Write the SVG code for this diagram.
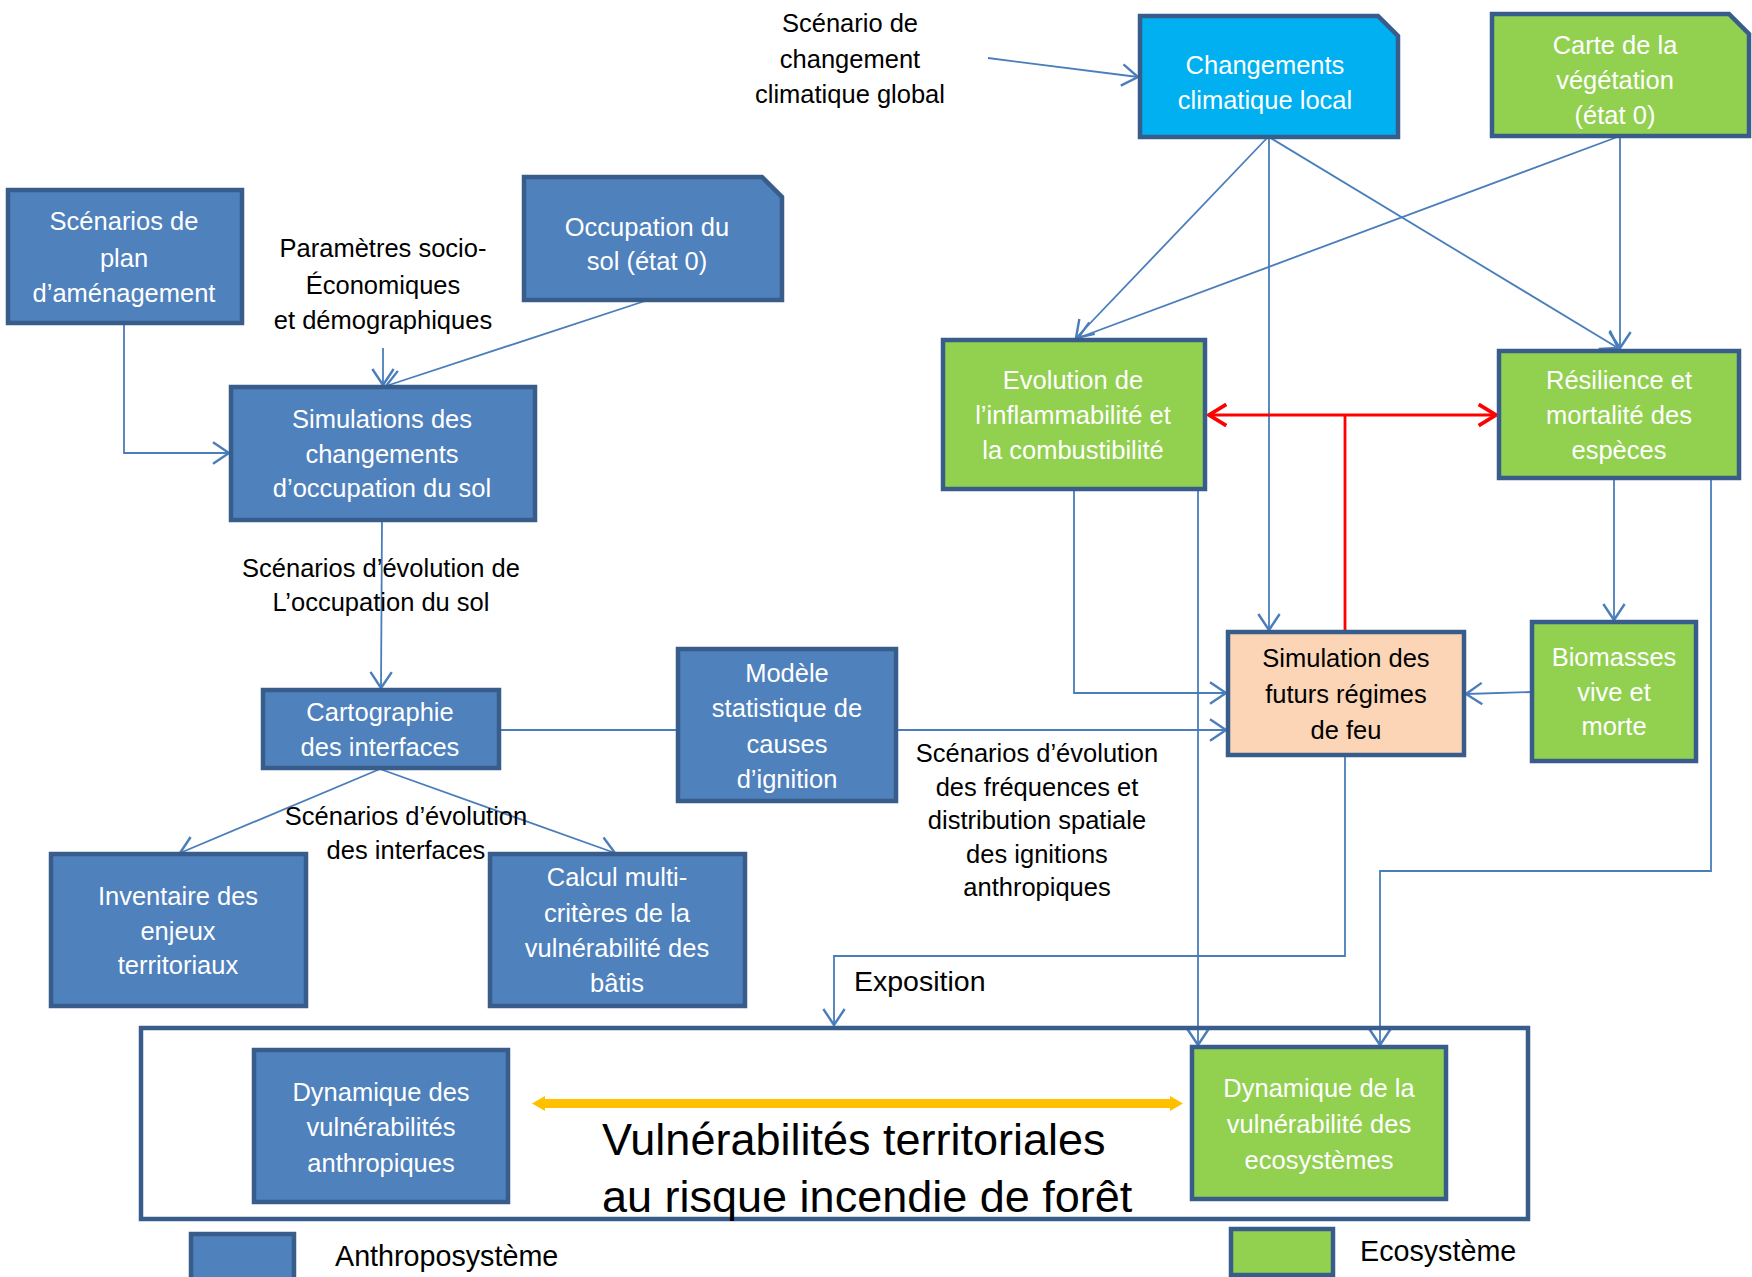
<svg xmlns="http://www.w3.org/2000/svg" width="1752" height="1277" viewBox="0 0 1752 1277">
<defs>
<style>
.b{fill:#4F81BD;stroke:#385D8A;stroke-width:4.5}
.g{fill:#92D050;stroke:#385D8A;stroke-width:4.5}
.c{fill:#00B0F0;stroke:#385D8A;stroke-width:4.5}
.o{fill:#FBD5B5;stroke:#385D8A;stroke-width:4.5}
.w{font-family:"Liberation Sans",Arial,sans-serif;font-size:25.5px;fill:#FFFFFF;text-anchor:middle}
.k{font-family:"Liberation Sans",Arial,sans-serif;font-size:25.5px;fill:#000000;text-anchor:middle}
.kl{font-family:"Liberation Sans",Arial,sans-serif;fill:#000000}
.cn{fill:none;stroke:#4A7EBB;stroke-width:1.8}
.red{fill:none;stroke:#FF0000;stroke-width:2.8}
</style>
<marker id="ah" markerUnits="userSpaceOnUse" markerWidth="24" markerHeight="24" refX="13" refY="9" orient="auto" viewBox="0 0 16 18">
<path d="M1,1 L13,9 L1,17" fill="none" stroke="#4A7EBB" stroke-width="1.8"/>
</marker>
<marker id="ar" markerUnits="userSpaceOnUse" markerWidth="24" markerHeight="24" refX="14" refY="9" orient="auto-start-reverse" viewBox="0 0 16 18">
<path d="M1,1 L14,9 L1,17" fill="none" stroke="#FF0000" stroke-width="2.8"/>
</marker>
</defs>
<rect width="1752" height="1277" fill="#FFFFFF"/>

<g id="connectors">
<path class="cn" d="M988,58 L1138,77" marker-end="url(#ah)"/>
<path class="cn" d="M124,323 V453 H229" marker-end="url(#ah)"/>
<path class="cn" d="M383,348 V385" marker-end="url(#ah)"/>
<path class="cn" d="M648,300 L386,386" marker-end="url(#ah)"/>
<path class="cn" d="M382,520 L381,688" marker-end="url(#ah)"/>
<path class="cn" d="M380,769 L180,853" marker-end="url(#ah)"/>
<path class="cn" d="M380,769 L615,853" marker-end="url(#ah)"/>
<path class="cn" d="M498,730 H1226" marker-end="url(#ah)"/>
<path class="cn" d="M1268,137 L1076,338" marker-end="url(#ah)"/>
<path class="cn" d="M1269,137 V630" marker-end="url(#ah)"/>
<path class="cn" d="M1269,137 L1618,348" marker-end="url(#ah)"/>
<path class="cn" d="M1620,136 L1078,338" marker-end="url(#ah)"/>
<path class="cn" d="M1620,136 V348" marker-end="url(#ah)"/>
<path class="cn" d="M1074,489 V693 H1226" marker-end="url(#ah)"/>
<path class="cn" d="M1198,489 V1045" marker-end="url(#ah)"/>
<path class="cn" d="M1614,478 V620" marker-end="url(#ah)"/>
<path class="cn" d="M1532,692 L1466,694" marker-end="url(#ah)"/>
<path class="cn" d="M1711,478 V871 H1380 V1045" marker-end="url(#ah)"/>
<path class="cn" d="M1345,755 V956 H834 V1025" marker-end="url(#ah)"/>
<path class="red" d="M1345,632 V415"/>
<path class="red" d="M1209,415 H1496" marker-start="url(#ar)" marker-end="url(#ar)"/>
</g>

<g id="n-changements">
<path class="c" d="M1140,16 H1378 L1398,36 V137 H1140 Z"/>
<text class="w" x="1265" y="74">Changements</text>
<text class="w" x="1265" y="109">climatique local</text>
</g>
<g id="n-carte">
<path class="g" d="M1492,14 H1729 L1749,34 V136 H1492 Z"/>
<text class="w" x="1615" y="54">Carte de la</text>
<text class="w" x="1615" y="89">végétation</text>
<text class="w" x="1615" y="124">(état 0)</text>
</g>
<g id="n-scenario-global">
<text class="k" x="850" y="32">Scénario de</text>
<text class="k" x="850" y="68">changement</text>
<text class="k" x="850" y="103">climatique global</text>
</g>
<g id="n-plan">
<rect class="b" x="8" y="190" width="234" height="133"/>
<text class="w" x="124" y="230">Scénarios de</text>
<text class="w" x="124" y="267">plan</text>
<text class="w" x="124" y="302">d’aménagement</text>
</g>
<g id="n-parametres">
<text class="k" x="383" y="257">Paramètres socio-</text>
<text class="k" x="383" y="294">Économiques</text>
<text class="k" x="383" y="329">et démographiques</text>
</g>
<g id="n-occupation">
<path class="b" d="M524,177 H762 L782,197 V300 H524 Z"/>
<text class="w" x="647" y="236">Occupation du</text>
<text class="w" x="647" y="270">sol (état 0)</text>
</g>
<g id="n-simulations">
<rect class="b" x="231" y="387" width="304" height="133"/>
<text class="w" x="382" y="428">Simulations des</text>
<text class="w" x="382" y="463">changements</text>
<text class="w" x="382" y="497">d’occupation du sol</text>
</g>
<g id="n-label-occ">
<text class="k" x="381" y="577">Scénarios d’évolution de</text>
<text class="k" x="381" y="611">L’occupation du sol</text>
</g>
<g id="n-evolution">
<rect class="g" x="943" y="340" width="262" height="149"/>
<text class="w" x="1073" y="389">Evolution de</text>
<text class="w" x="1073" y="424">l’inflammabilité et</text>
<text class="w" x="1073" y="459">la combustibilité</text>
</g>
<g id="n-resilience">
<rect class="g" x="1499" y="351" width="240" height="127"/>
<text class="w" x="1619" y="389">Résilience et</text>
<text class="w" x="1619" y="424">mortalité des</text>
<text class="w" x="1619" y="459">espèces</text>
</g>
<g id="n-feu">
<rect class="o" x="1228" y="632" width="236" height="123"/>
<text class="k" x="1346" y="667">Simulation des</text>
<text class="k" x="1346" y="703">futurs régimes</text>
<text class="k" x="1346" y="739">de feu</text>
</g>
<g id="n-biomasses">
<rect class="g" x="1532" y="622" width="164" height="139"/>
<text class="w" x="1614" y="666">Biomasses</text>
<text class="w" x="1614" y="701">vive et</text>
<text class="w" x="1614" y="735">morte</text>
</g>
<g id="n-modele">
<rect class="b" x="678" y="649" width="218" height="152"/>
<text class="w" x="787" y="682">Modèle</text>
<text class="w" x="787" y="717">statistique de</text>
<text class="w" x="787" y="753">causes</text>
<text class="w" x="787" y="788">d’ignition</text>
</g>
<g id="n-cartographie">
<rect class="b" x="263" y="690" width="236" height="78"/>
<text class="w" x="380" y="721">Cartographie</text>
<text class="w" x="380" y="756">des interfaces</text>
</g>
<g id="n-label-ignitions">
<text class="k" x="1037" y="762">Scénarios d’évolution</text>
<text class="k" x="1037" y="796">des fréquences et</text>
<text class="k" x="1037" y="829">distribution spatiale</text>
<text class="k" x="1037" y="863">des ignitions</text>
<text class="k" x="1037" y="896">anthropiques</text>
</g>
<g id="n-label-interfaces">
<text class="k" x="406" y="825">Scénarios d’évolution</text>
<text class="k" x="406" y="859">des interfaces</text>
</g>
<g id="n-inventaire">
<rect class="b" x="51" y="854" width="255" height="152"/>
<text class="w" x="178" y="905">Inventaire des</text>
<text class="w" x="178" y="940">enjeux</text>
<text class="w" x="178" y="974">territoriaux</text>
</g>
<g id="n-calcul">
<rect class="b" x="490" y="854" width="255" height="152"/>
<text class="w" x="617" y="886">Calcul multi-</text>
<text class="w" x="617" y="922">critères de la</text>
<text class="w" x="617" y="957">vulnérabilité des</text>
<text class="w" x="617" y="992">bâtis</text>
</g>
<g id="n-exposition">
<text class="kl" x="854" y="991" font-size="28.5">Exposition</text>
</g>
<g id="n-vulnerabilites">
<rect x="141" y="1028" width="1387" height="191" fill="none" stroke="#385D8A" stroke-width="4.5"/>
<text class="kl" x="602" y="1155" font-size="45">Vulnérabilités territoriales</text>
<text class="kl" x="602" y="1212" font-size="45">au risque incendie de forêt</text>
</g>
<g id="n-dyn-anthro">
<rect class="b" x="254" y="1050" width="254" height="152"/>
<text class="w" x="381" y="1101">Dynamique des</text>
<text class="w" x="381" y="1136">vulnérabilités</text>
<text class="w" x="381" y="1172">anthropiques</text>
</g>
<g id="n-dyn-eco">
<rect class="g" x="1192" y="1047" width="254" height="152"/>
<text class="w" x="1319" y="1097">Dynamique de la</text>
<text class="w" x="1319" y="1133">vulnérabilité des</text>
<text class="w" x="1319" y="1169">ecosystèmes</text>
</g>
<g id="yellow-arrow">
<rect x="543" y="1099" width="628" height="9" fill="#FFC000"/>
<path d="M532,1103.5 L545,1096 L545,1111 Z" fill="#FFC000"/>
<path d="M1183,1103.5 L1170,1096 L1170,1111 Z" fill="#FFC000"/>
</g>
<g id="legend">
<rect class="b" x="191" y="1234" width="103" height="50"/>
<text class="kl" x="335" y="1266" font-size="28.7">Anthroposystème</text>
<rect class="g" x="1231" y="1229" width="102" height="46"/>
<text class="kl" x="1360" y="1261" font-size="28.7">Ecosystème</text>
</g>
</svg>
